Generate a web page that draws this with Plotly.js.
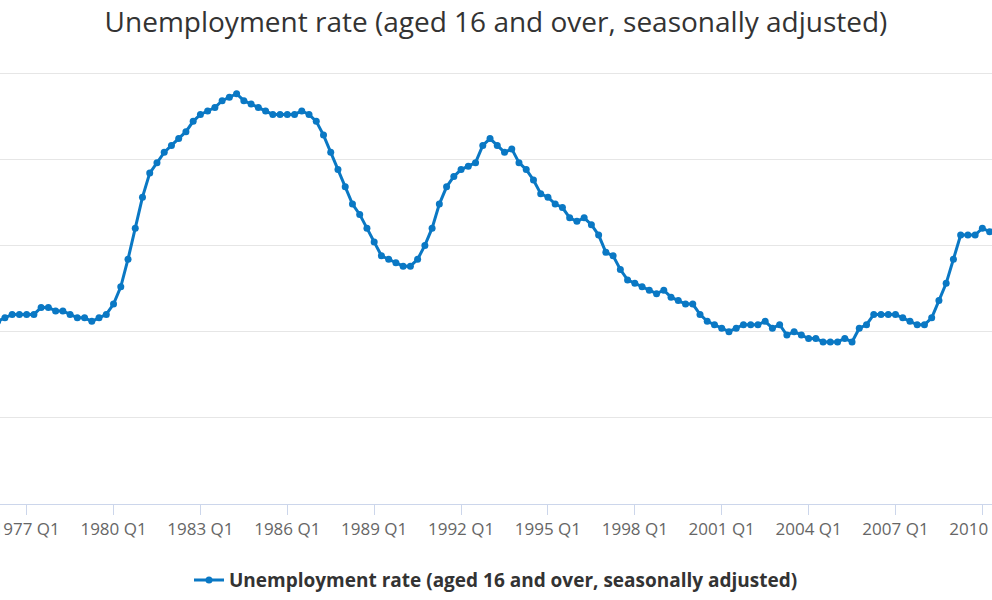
<!DOCTYPE html>
<html>
<head>
<meta charset="utf-8">
<script src="https://cdn.plot.ly/plotly-3.0.1.min.js"></script>
<style>
  html, body { margin: 0; padding: 0; background: #ffffff; }
  #chart { width: 992px; height: 600px; }
</style>
</head>
<body>
<div id="chart"></div>
<script>
// quarterly series, 1976 Q1 .. 2010 Q3
const firstYear = 1976;
const seriesName = 'Unemployment rate (aged 16 and over, seasonally adjusted)';
const rates = [
  5.3, 5.4, 5.5, 5.5,      // 1976
  5.5, 5.5, 5.7, 5.7,      // 1977
  5.6, 5.6, 5.5, 5.4,      // 1978
  5.4, 5.3, 5.4, 5.5,      // 1979
  5.8, 6.3, 7.1, 8.0,      // 1980
  8.9, 9.6, 9.9, 10.2,     // 1981
  10.4, 10.6, 10.8, 11.1,  // 1982
  11.3, 11.4, 11.5, 11.7,  // 1983
  11.8, 11.9, 11.7, 11.6,  // 1984
  11.5, 11.4, 11.3, 11.3,  // 1985
  11.3, 11.3, 11.4, 11.3,  // 1986
  11.1, 10.7, 10.2, 9.7,   // 1987
  9.2, 8.7, 8.4, 8.0,      // 1988
  7.6, 7.2, 7.1, 7.0,      // 1989
  6.9, 6.9, 7.1, 7.5,      // 1990
  8.0, 8.7, 9.2, 9.5,      // 1991
  9.7, 9.8, 9.9, 10.4,     // 1992
  10.6, 10.4, 10.2, 10.3,  // 1993
  9.9, 9.7, 9.4, 9.0,      // 1994
  8.9, 8.7, 8.6, 8.3,      // 1995
  8.2, 8.3, 8.1, 7.8,      // 1996
  7.3, 7.2, 6.8, 6.5,      // 1997
  6.4, 6.3, 6.2, 6.1,      // 1998
  6.2, 6.0, 5.9, 5.8,      // 1999
  5.8, 5.5, 5.3, 5.2,      // 2000
  5.1, 5.0, 5.1, 5.2,      // 2001
  5.2, 5.2, 5.3, 5.1,      // 2002
  5.2, 4.9, 5.0, 4.9,      // 2003
  4.8, 4.8, 4.7, 4.7,      // 2004
  4.7, 4.8, 4.7, 5.1,      // 2005
  5.2, 5.5, 5.5, 5.5,      // 2006
  5.5, 5.4, 5.3, 5.2,      // 2007
  5.2, 5.4, 5.9, 6.4,      // 2008
  7.1, 7.8, 7.8, 7.8,      // 2009
  8.0, 7.9, 7.8            // 2010
];

const quarters = rates.map((v, i) => (firstYear + Math.floor(i / 4)) + ' Q' + (i % 4 + 1));
const tickLabels = quarters.filter(q => q.endsWith('Q1') && (parseInt(q) - 1977) % 3 === 0);

const trace = {
  type: 'scatter',
  mode: 'lines+markers',
  name: seriesName,
  x: quarters,
  y: rates,
  line: { color: '#0a78c4', width: 3 },
  marker: { color: '#0a78c4', size: 7 },
  cliponaxis: true
};

const layout = {
  width: 992,
  height: 600,
  paper_bgcolor: '#ffffff',
  plot_bgcolor: '#ffffff',
  font: { family: '"Open Sans", sans-serif', color: '#666666' },
  margin: { l: 0, r: 0, t: 71, b: 96 },
  title: {
    text: seriesName,
    font: { family: '"Open Sans", sans-serif', size: 28, color: '#333333' },
    x: 0.5, xanchor: 'center',
    y: 0.963, yanchor: 'middle', yref: 'container'
  },
  xaxis: {
    type: 'category',
    categoryorder: 'array',
    categoryarray: quarters,
    range: [0.32, 137.33],
    tickmode: 'array',
    tickvals: tickLabels,
    ticktext: tickLabels,
    ticks: 'outside',
    ticklen: 10,
    tickcolor: '#ccd6eb',
    tickwidth: 1,
    showline: true,
    linecolor: '#ccd6eb',
    linewidth: 1,
    showgrid: false,
    zeroline: false,
    automargin: false,
    ticklabeloverflow: 'allow',
    tickfont: { size: 17, color: '#666666' }
  },
  yaxis: {
    range: [0, 12.56],
    tickmode: 'array',
    tickvals: [2.5, 5, 7.5, 10, 12.5],
    showticklabels: false,
    showgrid: true,
    gridcolor: '#e6e6e6',
    gridwidth: 1,
    zeroline: false,
    automargin: false,
    fixedrange: true
  },
  showlegend: true,
  legend: {
    orientation: 'h',
    x: 0.5, xanchor: 'center',
    y: -0.176, yanchor: 'middle',
    font: { family: '"Open Sans", sans-serif', size: 19, color: '#333333', weight: 'bold' }
  }
};

Plotly.newPlot('chart', [trace], layout, { displayModeBar: false, staticPlot: true });
</script>
</body>
</html>
